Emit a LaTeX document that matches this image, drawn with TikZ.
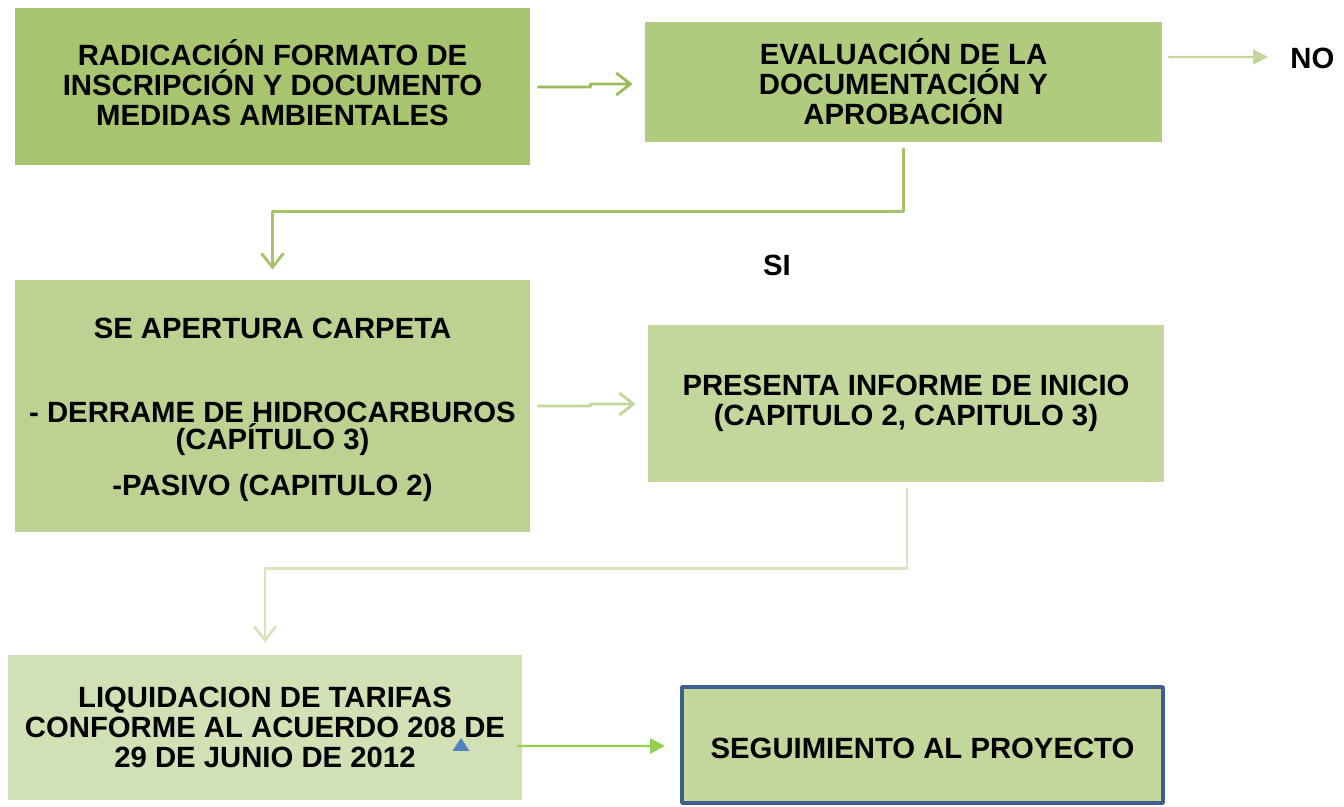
\documentclass[tikz,border=0pt]{standalone}
\usepackage{fontspec}
\setmainfont{Liberation Sans}
\usetikzlibrary{arrows.meta}
\definecolor{verdeA}{HTML}{A9C46F}
\definecolor{verdeB}{HTML}{B0CB7E}
\definecolor{verdeC}{HTML}{BDD292}
\definecolor{verdeD}{HTML}{C3D69B}
\definecolor{verdeE}{HTML}{D2E1B5}
\definecolor{flechaA}{HTML}{9BBB59}
\definecolor{flechaB}{HTML}{A7C26B}
\definecolor{flechaC}{HTML}{D7E4BD}
\definecolor{flechaD}{HTML}{92D050}
\definecolor{bordeazul}{HTML}{3D5E8F}
\definecolor{marcaazul}{HTML}{4F81BD}
\begin{document}
\begin{tikzpicture}[>=latex,line join=bevel,
  caja/.style={inner sep=0pt,align=center,font=\fontsize{14.7}{15}\selectfont\bfseries},
  rotulo/.style={inner sep=0pt,font=\fontsize{14.7}{15}\selectfont\bfseries},
  chev/.style={-{Straight Barb[length=7bp,width=11bp]},line width=1.4bp},
  tri/.style={-{Triangle[length=7.5bp,width=7.5bp]},line width=1.2bp},
]
%%
\begin{scope}
  \definecolor{fillcol}{rgb}{1.0,1.0,1.0};
  \fill[fillcol] (0bp,0bp) -- (0bp,403.5bp) -- (672bp,403.5bp) -- (672bp,0bp) -- cycle;
\end{scope}
  \node (radicacion) at (136.25bp,360.25bp) [caja,fill=verdeA,minimum width=257.5bp,minimum height=78.5bp] {RADICACIÓN FORMATO DE\\INSCRIPCIÓN Y DOCUMENTO\\MEDIDAS AMBIENTALES\\[-11bp]};
  \node (evaluacion) at (451.75bp,362.5bp) [caja,fill=verdeB,minimum width=258.5bp,minimum height=60bp] {EVALUACIÓN DE LA\\DOCUMENTACIÓN Y\\APROBACIÓN};
  \node (apertura) at (136.25bp,200.5bp) [caja,fill=verdeC,minimum width=257.5bp,minimum height=126bp] {\rule{0pt}{14bp}SE APERTURA CARPETA\\[27bp]- DERRAME DE HIDROCARBUROS\\[-1bp](CAPÍTULO 3)\\[8bp]-PASIVO (CAPITULO 2)};
  \node (presenta) at (453bp,201.75bp) [caja,fill=verdeD,minimum width=258bp,minimum height=78.5bp] {PRESENTA INFORME DE INICIO\\(CAPITULO 2, CAPITULO 3)};
  \node (liquidacion) at (132.5bp,39.75bp) [caja,fill=verdeE,minimum width=257bp,minimum height=72.5bp] {LIQUIDACION DE TARIFAS\\CONFORME AL ACUERDO 208 DE\\29 DE JUNIO DE 2012};
  \node (seguimiento) at (461.25bp,31bp) [caja,fill=verdeD,draw=bordeazul,line width=2bp,minimum width=240.5bp,minimum height=58bp] {\rule{0pt}{13.5bp}SEGUIMIENTO AL PROYECTO};
  \node (no) at (645bp,374.5bp) [rotulo,anchor=west] {NO};
  \node (si) at (388.5bp,271bp) [rotulo] {SI};
  \draw [chev,draw=flechaA] ([xshift=3.5bp,yshift=-0.25bp]radicacion.east) -- ++(26.5bp,0) -- ++(0,1.5bp) -- ([xshift=-6bp,yshift=-1bp]evaluacion.west);
  \draw [tri,draw=verdeD,fill=verdeD] ([xshift=3bp,yshift=12.5bp]evaluacion.east) -- ([xshift=-11bp,yshift=0.5bp]no.west);
  \draw [chev,draw=flechaB] ([yshift=-3bp]evaluacion.south) -- ++(0,-31.5bp) -| ([yshift=5bp]apertura.north);
  \draw [chev,draw=verdeD] ([xshift=3.5bp]apertura.east) -- ++(26.5bp,0) -- ++(0,1bp) -- ([xshift=-6bp,yshift=-0.25bp]presenta.west);
  \draw [chev,draw=flechaC] ([xshift=0.5bp,yshift=-3bp]presenta.south) -- ++(0,-40bp) -| ([yshift=6bp]liquidacion.north);
  \draw [tri,draw=flechaD,fill=flechaD] ([xshift=-2.5bp,yshift=-9.25bp]liquidacion.east) -- ([xshift=-7.5bp,yshift=-0.5bp]seguimiento.west);
  \fill [marcaazul] (226.25bp,28bp) -- (234.75bp,28bp) -- (230.5bp,34.5bp) -- cycle;
%
\end{tikzpicture}
\end{document}
